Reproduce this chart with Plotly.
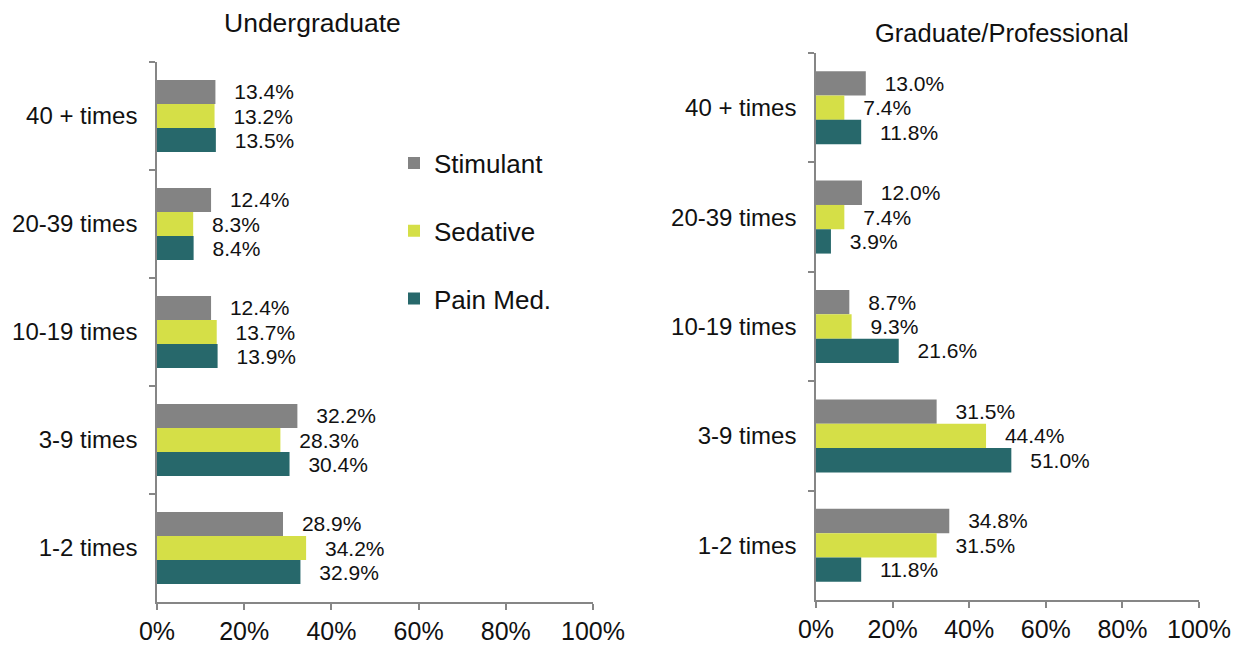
import plotly.graph_objects as go

W, H = 1235, 648

CATEGORIES = ["40 + times", "20-39 times", "10-19 times", "3-9 times", "1-2 times"]
SERIES = ["Stimulant", "Sedative", "Pain Med."]

UNDERGRAD = {
    "Stimulant": [13.4, 12.4, 12.4, 32.2, 28.9],
    "Sedative": [13.2, 8.3, 13.7, 28.3, 34.2],
    "Pain Med.": [13.5, 8.4, 13.9, 30.4, 32.9],
}
GRADUATE = {
    "Stimulant": [13.0, 12.0, 8.7, 31.5, 34.8],
    "Sedative": [7.4, 7.4, 9.3, 44.4, 31.5],
    "Pain Med.": [11.8, 3.9, 21.6, 51.0, 11.8],
}
X_TICKS = [0, 20, 40, 60, 80, 100]

COLORS = {"Stimulant": "#838383", "Sedative": "#d5df47", "Pain Med.": "#27686b"}
AXIS_COLOR = "#868686"
TEXT = "#111111"
FONT = "Liberation Sans, Arial, sans-serif"
PAD = "\u00a0\u00a0\u2009"


def px_x(p):
    return p / W


def px_y(p):
    return 1 - p / H


fig = go.Figure()

for data, xa, ya, show in [(UNDERGRAD, "x", "y", True), (GRADUATE, "x2", "y2", False)]:
    for name in SERIES:
        fig.add_trace(go.Bar(
            x=data[name], y=CATEGORIES,
            orientation="h",
            name=name,
            legendgroup=name,
            showlegend=show,
            marker=dict(color=COLORS[name], line=dict(width=0)),
            text=[f"{PAD}{v:.1f}%" for v in data[name]],
            textposition="outside",
            constraintext="none",
            cliponaxis=False,
            textfont=dict(size=21, color=TEXT, family=FONT),
            xaxis=xa, yaxis=ya,
        ))

_XAXIS = dict(
    range=[0, 100], tickmode="array", tickvals=X_TICKS,
    ticktext=[f"{v}%" for v in X_TICKS],
    showline=True, linecolor=AXIS_COLOR, linewidth=1.5,
    ticks="outside", ticklen=6, tickcolor=AXIS_COLOR, tickwidth=1.5,
    showgrid=False, zeroline=False, fixedrange=True, automargin=False,
    tickfont=dict(size=25, color=TEXT, family=FONT),
)
_YAXIS = dict(
    type="category", categoryorder="array", categoryarray=CATEGORIES,
    autorange="reversed",
    showline=True, linecolor=AXIS_COLOR, linewidth=1.5,
    ticks="outside", ticklen=6, tickcolor=AXIS_COLOR, tickwidth=1.5,
    tickson="boundaries", ticklabelstandoff=13,
    showgrid=False, zeroline=False, fixedrange=True, automargin=False,
    tickfont=dict(size=24, color=TEXT, family=FONT),
)

fig.update_layout(
    template="none",
    width=W, height=H,
    paper_bgcolor="white", plot_bgcolor="white",
    margin=dict(l=0, r=0, t=0, b=0, autoexpand=False),
    barmode="group", bargap=0.333, bargroupgap=0,
    font=dict(family=FONT, color=TEXT),
    xaxis=dict(domain=[px_x(157), px_x(593)], anchor="y", **_XAXIS),
    yaxis=dict(domain=[px_y(602), px_y(62)], anchor="x", **_YAXIS),
    xaxis2=dict(domain=[px_x(816), px_x(1199)], anchor="y2", **_XAXIS),
    yaxis2=dict(domain=[px_y(600), px_y(53)], anchor="x2", **_YAXIS),
    legend=dict(
        x=px_x(394), y=px_y(231), xanchor="left", yanchor="middle",
        traceorder="grouped", tracegroupgap=31, itemwidth=30,
        font=dict(size=26, color=TEXT, family=FONT),
        bgcolor="rgba(0,0,0,0)",
    ),
    annotations=[
        dict(text="Undergraduate", x=px_x(312), y=px_y(23), xref="paper", yref="paper",
             xanchor="center", yanchor="middle", showarrow=False,
             font=dict(size=26.5, color=TEXT, family=FONT)),
        dict(text="Graduate/Professional", x=px_x(1002), y=px_y(33), xref="paper", yref="paper",
             xanchor="center", yanchor="middle", showarrow=False,
             font=dict(size=25.5, color=TEXT, family=FONT)),
    ],
)

fig.write_html("out.html", config={"displayModeBar": False},
               post_script="document.body.style.margin='0';")
